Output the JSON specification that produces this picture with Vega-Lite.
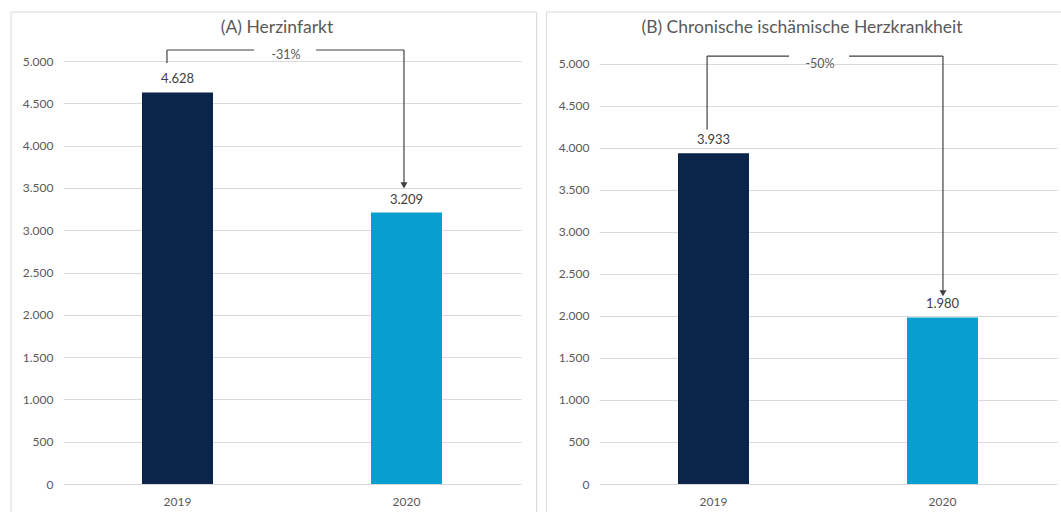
{
  "$schema": "https://vega.github.io/schema/vega-lite/v6.json",
  "padding": {"left": 10, "top": 11, "right": 0, "bottom": 0},
  "spacing": 8,
  "config": {
    "locale": {"number": {"decimal": ",", "thousands": ".", "grouping": [3], "currency": ["", " €"]}},
    "view": {"stroke": null},
    "font": "Lato",
    "axis": {"labelFont": "Lato", "labelFontSize": 12, "labelColor": "#595959"}
  },
  "hconcat": [
    {
      "width": 458,
      "height": 423,
      "title": {"text": "(A) Herzinfarkt", "font": "Lato", "fontSize": 17.5, "fontWeight": "normal", "color": "#595959", "offset": -25, "dx": -15},
      "resolve": {"scale": {"x": "independent"}},
      "layer": [
        {
          "data": {"values": [{"x0": -0.227, "x1": 2.068, "y0": -700, "y1": 5579}]},
          "mark": {"type": "rect", "fill": "white", "fillOpacity": 0, "stroke": "#d9d9d9", "strokeWidth": 1},
          "encoding": {
            "x": {"field": "x0", "type": "quantitative", "scale": {"domain": [0, 2], "nice": false, "zero": false}, "axis": null},
            "x2": {"field": "x1"},
            "y": {"field": "y0", "type": "quantitative", "scale": {"domain": [0, 5000], "nice": false}, "axis": {"title": null, "values": [0, 500, 1000, 1500, 2000, 2500, 3000, 3500, 4000, 4500, 5000], "format": ",d", "ticks": false, "domain": false, "labelPadding": 10, "grid": true, "gridColor": "#d9d9d9"}},
            "y2": {"field": "y1"}
          }
        },
        {
          "data": {"values": [{"year": "2019", "value": 4628}, {"year": "2020", "value": 3209}]},
          "encoding": {
            "x": {"field": "year", "type": "nominal", "scale": {"paddingInner": 0, "paddingOuter": 0}, "axis": {"title": null, "labelAngle": 0, "ticks": false, "domain": false, "labelPadding": 12, "grid": false}},
            "y": {"field": "value", "type": "quantitative", "scale": {"domain": [0, 5000], "nice": false}, "axis": {"title": null, "values": [0, 500, 1000, 1500, 2000, 2500, 3000, 3500, 4000, 4500, 5000], "format": ",d", "ticks": false, "domain": false, "labelPadding": 10, "grid": true, "gridColor": "#d9d9d9"}}
          },
          "layer": [
            {
              "mark": {"type": "bar", "size": 71},
              "encoding": {"color": {"field": "year", "type": "nominal", "scale": {"domain": ["2019", "2020"], "range": ["#0A2549", "#079FD0"]}, "legend": null}}
            },
            {
              "mark": {"type": "text", "baseline": "bottom", "dy": -6, "fontSize": 13, "color": "#404040", "font": "Lato"},
              "encoding": {"text": {"field": "value", "type": "quantitative", "format": ",d"}}
            }
          ]
        },
        {
          "data": {"values": [
            {"x": 0.454, "x2": 0.454, "y": 4976, "y2": 5130},
            {"x": 0.454, "x2": 0.834, "y": 5130, "y2": 5130},
            {"x": 1.105, "x2": 1.489, "y": 5130, "y2": 5130},
            {"x": 1.489, "x2": 1.489, "y": 5130, "y2": 3540}
          ]},
          "mark": {"type": "rule", "color": "#404040", "strokeWidth": 1.2},
          "encoding": {
            "x": {"field": "x", "type": "quantitative", "scale": {"domain": [0, 2], "nice": false, "zero": false}, "axis": null},
            "x2": {"field": "x2"},
            "y": {"field": "y", "type": "quantitative", "scale": {"domain": [0, 5000], "nice": false}, "axis": {"title": null, "values": [0, 500, 1000, 1500, 2000, 2500, 3000, 3500, 4000, 4500, 5000], "format": ",d", "ticks": false, "domain": false, "labelPadding": 10, "grid": true, "gridColor": "#d9d9d9"}},
            "y2": {"field": "y2"}
          }
        },
        {
          "data": {"values": [{"x": 1.489, "y": 3530}]},
          "mark": {"type": "point", "shape": "triangle-down", "filled": true, "size": 50, "color": "#404040", "opacity": 1},
          "encoding": {
            "x": {"field": "x", "type": "quantitative", "scale": {"domain": [0, 2], "nice": false, "zero": false}, "axis": null},
            "y": {"field": "y", "type": "quantitative", "scale": {"domain": [0, 5000], "nice": false}, "axis": {"title": null, "values": [0, 500, 1000, 1500, 2000, 2500, 3000, 3500, 4000, 4500, 5000], "format": ",d", "ticks": false, "domain": false, "labelPadding": 10, "grid": true, "gridColor": "#d9d9d9"}}
          }
        },
        {
          "data": {"values": [{"x": 0.974, "y": 5071, "label": "-31%"}]},
          "mark": {"type": "text", "fontSize": 12.5, "color": "#595959", "font": "Lato", "baseline": "middle"},
          "encoding": {
            "x": {"field": "x", "type": "quantitative", "scale": {"domain": [0, 2], "nice": false, "zero": false}, "axis": null},
            "y": {"field": "y", "type": "quantitative", "scale": {"domain": [0, 5000], "nice": false}, "axis": {"title": null, "values": [0, 500, 1000, 1500, 2000, 2500, 3000, 3500, 4000, 4500, 5000], "format": ",d", "ticks": false, "domain": false, "labelPadding": 10, "grid": true, "gridColor": "#d9d9d9"}},
            "text": {"field": "label", "type": "nominal"}
          }
        }
      ]
    },
    {
      "width": 458,
      "height": 423,
      "title": {"text": "(B) Chronische ischämische Herzkrankheit", "font": "Lato", "fontSize": 17.5, "fontWeight": "normal", "color": "#595959", "offset": -25, "dx": -26},
      "resolve": {"scale": {"x": "independent"}},
      "layer": [
        {
          "data": {"values": [{"x0": -0.229, "x1": 2.2, "y0": -700, "y1": 5613}]},
          "mark": {"type": "rect", "fill": "white", "fillOpacity": 0, "stroke": "#d9d9d9", "strokeWidth": 1},
          "encoding": {
            "x": {"field": "x0", "type": "quantitative", "scale": {"domain": [0, 2], "nice": false, "zero": false}, "axis": null},
            "x2": {"field": "x1"},
            "y": {"field": "y0", "type": "quantitative", "scale": {"domain": [0, 5030], "nice": false}, "axis": {"title": null, "values": [0, 500, 1000, 1500, 2000, 2500, 3000, 3500, 4000, 4500, 5000], "format": ",d", "ticks": false, "domain": false, "labelPadding": 10, "grid": true, "gridColor": "#d9d9d9"}},
            "y2": {"field": "y1"}
          }
        },
        {
          "data": {"values": [{"year": "2019", "value": 3933}, {"year": "2020", "value": 1980}]},
          "encoding": {
            "x": {"field": "year", "type": "nominal", "scale": {"paddingInner": 0, "paddingOuter": 0}, "axis": {"title": null, "labelAngle": 0, "ticks": false, "domain": false, "labelPadding": 12, "grid": false}},
            "y": {"field": "value", "type": "quantitative", "scale": {"domain": [0, 5030], "nice": false}, "axis": {"title": null, "values": [0, 500, 1000, 1500, 2000, 2500, 3000, 3500, 4000, 4500, 5000], "format": ",d", "ticks": false, "domain": false, "labelPadding": 10, "grid": true, "gridColor": "#d9d9d9"}}
          },
          "layer": [
            {
              "mark": {"type": "bar", "size": 71},
              "encoding": {"color": {"field": "year", "type": "nominal", "scale": {"domain": ["2019", "2020"], "range": ["#0A2549", "#079FD0"]}, "legend": null}}
            },
            {
              "mark": {"type": "text", "baseline": "bottom", "dy": -6, "fontSize": 13, "color": "#404040", "font": "Lato"},
              "encoding": {"text": {"field": "value", "type": "quantitative", "format": ",d"}}
            }
          ]
        },
        {
          "data": {"values": [
            {"x": 0.472, "x2": 0.472, "y": 4216, "y2": 5089},
            {"x": 0.472, "x2": 0.830, "y": 5089, "y2": 5089},
            {"x": 1.092, "x2": 1.502, "y": 5089, "y2": 5089},
            {"x": 1.502, "x2": 1.502, "y": 5089, "y2": 2278}
          ]},
          "mark": {"type": "rule", "color": "#404040", "strokeWidth": 1.2},
          "encoding": {
            "x": {"field": "x", "type": "quantitative", "scale": {"domain": [0, 2], "nice": false, "zero": false}, "axis": null},
            "x2": {"field": "x2"},
            "y": {"field": "y", "type": "quantitative", "scale": {"domain": [0, 5030], "nice": false}, "axis": {"title": null, "values": [0, 500, 1000, 1500, 2000, 2500, 3000, 3500, 4000, 4500, 5000], "format": ",d", "ticks": false, "domain": false, "labelPadding": 10, "grid": true, "gridColor": "#d9d9d9"}},
            "y2": {"field": "y2"}
          }
        },
        {
          "data": {"values": [{"x": 1.502, "y": 2268}]},
          "mark": {"type": "point", "shape": "triangle-down", "filled": true, "size": 50, "color": "#404040", "opacity": 1},
          "encoding": {
            "x": {"field": "x", "type": "quantitative", "scale": {"domain": [0, 2], "nice": false, "zero": false}, "axis": null},
            "y": {"field": "y", "type": "quantitative", "scale": {"domain": [0, 5030], "nice": false}, "axis": {"title": null, "values": [0, 500, 1000, 1500, 2000, 2500, 3000, 3500, 4000, 4500, 5000], "format": ",d", "ticks": false, "domain": false, "labelPadding": 10, "grid": true, "gridColor": "#d9d9d9"}}
          }
        },
        {
          "data": {"values": [{"x": 0.965, "y": 5000, "label": "-50%"}]},
          "mark": {"type": "text", "fontSize": 12.5, "color": "#595959", "font": "Lato", "baseline": "middle"},
          "encoding": {
            "x": {"field": "x", "type": "quantitative", "scale": {"domain": [0, 2], "nice": false, "zero": false}, "axis": null},
            "y": {"field": "y", "type": "quantitative", "scale": {"domain": [0, 5030], "nice": false}, "axis": {"title": null, "values": [0, 500, 1000, 1500, 2000, 2500, 3000, 3500, 4000, 4500, 5000], "format": ",d", "ticks": false, "domain": false, "labelPadding": 10, "grid": true, "gridColor": "#d9d9d9"}},
            "text": {"field": "label", "type": "nominal"}
          }
        }
      ]
    }
  ]
}
